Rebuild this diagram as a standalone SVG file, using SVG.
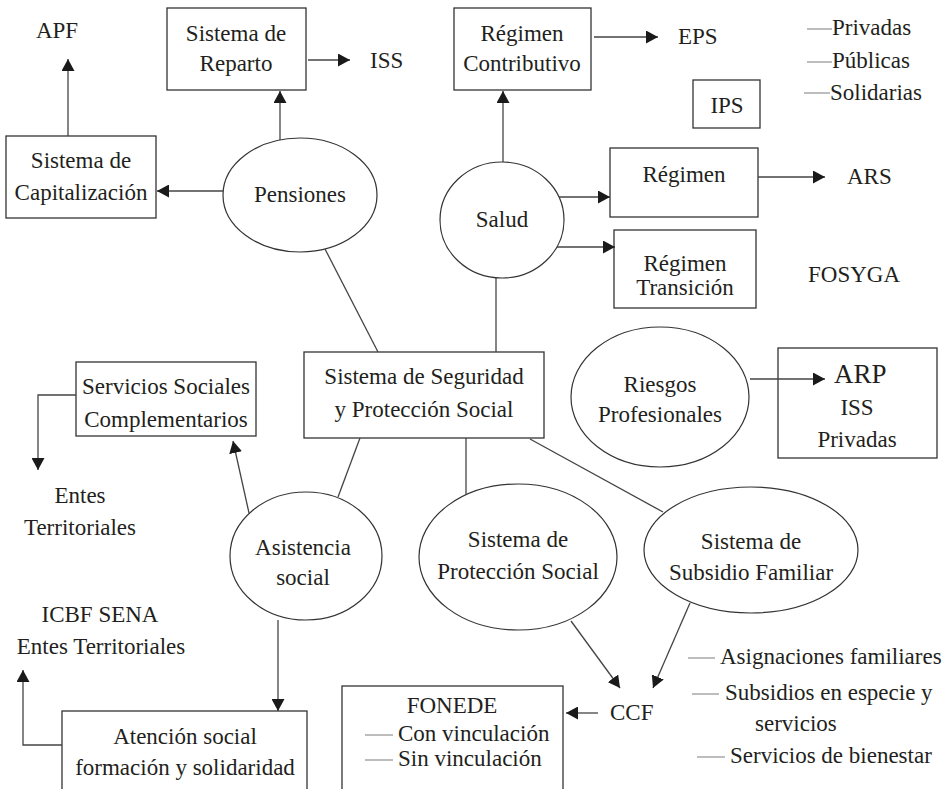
<svg xmlns="http://www.w3.org/2000/svg" width="950" height="789" viewBox="0 0 950 789">
<defs>
<marker id="ah" markerUnits="userSpaceOnUse" markerWidth="13" markerHeight="13" refX="12" refY="6.5" orient="auto" viewBox="0 0 13 13">
<path d="M0,0 L12,6.5 L0,13 z" fill="#1a1a1a"/>
</marker>
<style>
text{font-family:"Liberation Serif","Times New Roman",serif;font-size:23px;fill:#231f20}
.m{text-anchor:middle}
.box{fill:#fff;stroke:#333;stroke-width:1.3}
.ell{fill:#fff;stroke:#333;stroke-width:1.2}
.c{stroke:#444;stroke-width:1.3;fill:none}
.a{stroke:#444;stroke-width:1.3;fill:none;marker-end:url(#ah)}
.d{stroke:#999;stroke-width:1.3}
</style>
</defs>
<rect width="950" height="789" fill="#fff"/>

<g id="apf"><text class="m" x="57" y="38">APF</text></g>
<g id="reparto"><rect class="box" x="167" y="8" width="139" height="82"/>
<text class="m" x="236" y="41">Sistema de</text><text class="m" x="236" y="71">Reparto</text></g>
<g id="iss"><text x="370" y="68">ISS</text></g>
<g id="capitalizacion"><rect class="box" x="6" y="136" width="150" height="82"/>
<text class="m" x="81" y="168">Sistema de</text><text class="m" x="81" y="200">Capitalización</text></g>
<g id="pensiones"><ellipse class="ell" cx="300" cy="195" rx="77" ry="57"/>
<text class="m" x="300" y="202">Pensiones</text></g>

<g id="contributivo"><rect class="box" x="454" y="8" width="137" height="82"/>
<text class="m" x="522" y="41">Régimen</text><text class="m" x="522" y="71">Contributivo</text></g>
<g id="eps"><text x="678" y="44">EPS</text></g>
<g id="ips-list">
<line class="d" x1="807" y1="29" x2="832" y2="29"/><text x="832" y="35">Privadas</text>
<line class="d" x1="807" y1="62" x2="832" y2="62"/><text x="832" y="68">Públicas</text>
<line class="d" x1="804" y1="93" x2="830" y2="93"/><text x="830" y="100">Solidarias</text>
</g>
<g id="ips"><rect class="box" x="693" y="80" width="67" height="48"/>
<text class="m" x="727" y="113">IPS</text></g>
<g id="salud"><ellipse class="ell" cx="502" cy="220" rx="62" ry="58"/>
<text class="m" x="502" y="227">Salud</text></g>
<g id="regimen"><rect class="box" x="610" y="148" width="148" height="69"/>
<text class="m" x="684" y="182">Régimen</text></g>
<g id="ars"><text x="847" y="184">ARS</text></g>
<g id="transicion"><rect class="box" x="614" y="230" width="142" height="78"/>
<text class="m" x="685" y="271">Régimen</text><text class="m" x="685" y="295">Transición</text></g>
<g id="fosyga"><text x="808" y="282">FOSYGA</text></g>

<g id="riesgos"><ellipse class="ell" cx="660" cy="397" rx="89" ry="70"/>
<text class="m" x="660" y="392">Riesgos</text><text class="m" x="660" y="422">Profesionales</text></g>
<g id="arp"><rect class="box" x="778" y="348" width="159" height="110"/>
<text x="834" y="383" style="font-size:27px">ARP</text>
<text class="m" x="857" y="415">ISS</text><text class="m" x="857" y="447">Privadas</text></g>

<g id="central"><rect class="box" x="304" y="352" width="240" height="86"/>
<text class="m" x="424" y="384">Sistema de Seguridad</text><text class="m" x="424" y="417">y Protección Social</text></g>

<g id="servicios"><rect class="box" x="76" y="362" width="180" height="74"/>
<text class="m" x="166" y="394">Servicios Sociales</text><text class="m" x="166" y="427">Complementarios</text></g>
<g id="entes"><text class="m" x="80" y="503">Entes</text><text class="m" x="80" y="535">Territoriales</text></g>

<g id="asistencia"><ellipse class="ell" cx="306" cy="556" rx="76" ry="64"/>
<text class="m" x="303" y="555">Asistencia</text><text class="m" x="303" y="585">social</text></g>
<g id="proteccion"><ellipse class="ell" cx="518" cy="557" rx="99" ry="73"/>
<text class="m" x="518" y="547">Sistema de</text><text class="m" x="518" y="579">Protección Social</text></g>
<g id="subsidio"><ellipse class="ell" cx="751" cy="550" rx="107" ry="63"/>
<text class="m" x="751" y="549">Sistema de</text><text class="m" x="751" y="580">Subsidio Familiar</text></g>

<g id="icbf"><text class="m" x="100" y="622">ICBF SENA</text><text class="m" x="101" y="654">Entes Territoriales</text></g>
<g id="atencion"><rect class="box" x="62" y="711" width="245" height="95"/>
<text class="m" x="185" y="744">Atención social</text><text class="m" x="185" y="775">formación y solidaridad</text></g>

<g id="fonede"><rect class="box" x="342" y="686" width="221" height="120"/>
<text class="m" x="452" y="713">FONEDE</text>
<line class="d" x1="365" y1="735" x2="393" y2="735"/><text x="398" y="741">Con vinculación</text>
<line class="d" x1="365" y1="760" x2="393" y2="760"/><text x="398" y="766">Sin vinculación</text></g>
<g id="ccf"><text x="610" y="720">CCF</text></g>
<g id="ccf-list">
<line class="d" x1="688" y1="658" x2="715" y2="658"/><text x="720" y="664">Asignaciones familiares</text>
<line class="d" x1="692" y1="694" x2="719" y2="694"/><text x="725" y="700">Subsidios en especie  y</text>
<text x="755" y="731">servicios</text>
<line class="d" x1="697" y1="757" x2="725" y2="757"/><text x="730" y="763">Servicios de bienestar</text>
</g>

<g id="connectors">
<line class="a" x1="68" y1="136" x2="68" y2="59"/>
<line class="a" x1="308" y1="60" x2="350" y2="60"/>
<line class="a" x1="223" y1="191" x2="157" y2="191"/>
<line class="a" x1="280" y1="140" x2="280" y2="91"/>
<line class="c" x1="325" y1="249" x2="378" y2="352"/>
<line class="a" x1="503" y1="162" x2="503" y2="91"/>
<line class="a" x1="594" y1="37" x2="658" y2="37"/>
<line class="a" x1="559" y1="197" x2="610" y2="197"/>
<line class="a" x1="758" y1="177" x2="825" y2="177"/>
<line class="a" x1="557" y1="247" x2="615" y2="247"/>
<line class="c" x1="496" y1="278" x2="496" y2="352"/>
<line class="a" x1="750" y1="379" x2="825" y2="379"/>
<line class="c" x1="360" y1="438" x2="338" y2="497"/>
<line class="c" x1="466" y1="438" x2="466" y2="495"/>
<line class="c" x1="530" y1="439" x2="663" y2="512"/>
<polyline class="a" points="76,395 38,395 38,470"/>
<line class="a" x1="249" y1="513" x2="233" y2="441"/>
<line class="a" x1="278" y1="620" x2="278" y2="711"/>
<polyline class="a" points="62,745 23,745 23,670"/>
<line class="a" x1="571" y1="621" x2="620" y2="688"/>
<line class="a" x1="690" y1="603" x2="653" y2="688"/>
<line class="a" x1="598" y1="713" x2="566" y2="713"/>
</g>
</svg>
